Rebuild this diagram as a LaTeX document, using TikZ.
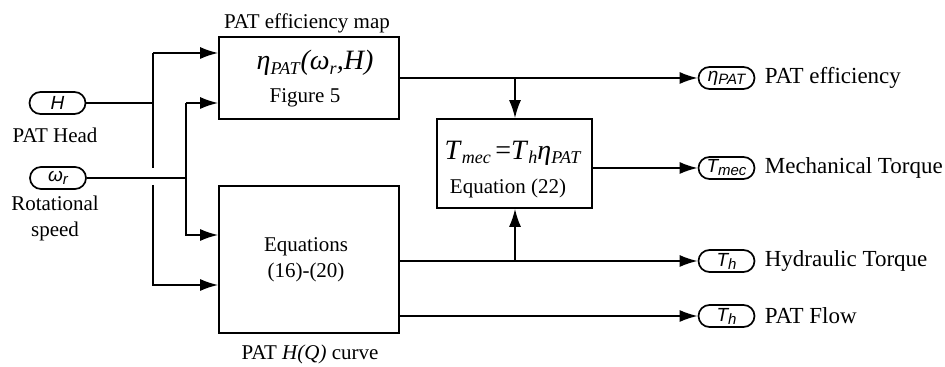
\documentclass[tikz,border=0pt]{standalone}
\usepackage{fontspec}
\setmainfont{Liberation Serif}
\setsansfont{Liberation Sans}
\usetikzlibrary{arrows.meta}
\newcommand{\lsub}[1]{\raisebox{-0.35ex}{\fontsize{9}{9}\selectfont\textit{#1}}}
\newcommand{\psub}[1]{\raisebox{-0.3ex}{\fontsize{7.5}{7.5}\selectfont\textit{#1}}}
\begin{document}
\begin{tikzpicture}[x=0.5pt,y=-0.5pt,line width=0.85pt,
  blk/.style={draw,rectangle,inner sep=0pt},
  pill/.style={draw,rounded corners=5.5pt,minimum width=28pt,minimum height=11pt,inner sep=0pt,font=\sffamily\itshape\fontsize{9.5}{10}\selectfont},
  arr/.style={-{Latex[length=9pt,width=6pt]}},
  lbl/.style={inner sep=0pt,align=center,font=\fontsize{10.5}{13}\selectfont},
  rlbl/.style={anchor=west,inner sep=0pt,font=\fontsize{11.5}{13}\selectfont},
  eq/.style={inner sep=0pt,font=\fontsize{14}{16}\selectfont}]
\useasboundingbox (0,0) rectangle (945,367);
% input pills
\node[pill] (pH) at (57.5,103) {H};
\node[lbl] (tH) at (55,135) {PAT Head};
\node[pill] (pw) at (58,178) {ω\psub{r}};
\node[lbl] (tw) at (55,218) {Rotational\\speed};
% blocks
\node[blk,minimum width=90pt,minimum height=41pt] (b1) at (309,78) {};
\node[lbl] (t1) at (307,23) {PAT efficiency map};
\node[eq] (e1) at (315,63) {\textit{η}\lsub{PAT}\textit{(ω}\lsub{r}\textit{,H)}};
\node[lbl] (f1) at (305,98) {Figure 5};
\node[blk,minimum width=90pt,minimum height=73.5pt] (b2) at (309,259.5) {};
\node[lbl] (e2) at (306,260) {Equations\\(16)-(20)};
\node[lbl] (t2) at (310,354) {PAT \textit{H(Q)} curve};
\node[blk,minimum width=77.5pt,minimum height=44.5pt] (b3) at (514.5,163.5) {};
\node[eq] (e3) at (513,153) {\textit{T}\lsub{mec}\,=\textit{T}\lsub{h}\textit{η}\lsub{PAT}};
\node[lbl] (f3) at (508,188) {Equation (22)};
% output pills
\node[pill] (oEta) at (726.5,78) {η\psub{PAT}};
\node[rlbl] (lEta) at (764,78) {PAT efficiency};
\node[pill] (oTm) at (726.5,168) {T\psub{mec}};
\node[rlbl] (lTm) at (764,168) {Mechanical Torque};
\node[pill] (oTh) at (726.5,261) {T\psub{h}};
\node[rlbl] (lTh) at (764,261) {Hydraulic Torque};
\node[pill] (oQ) at (726.5,316) {T\psub{h}};
\node[rlbl] (lQ) at (764,316) {PAT Flow};
% junction coordinates
\coordinate (hTop) at (153,53);
\coordinate (hMid) at (153,103);
\coordinate (hGapA) at (153,168);
\coordinate (hGapB) at (153,185);
\coordinate (hBot) at (153,285);
\coordinate (wTop) at (186,103);
\coordinate (wMid) at (186,178);
\coordinate (wBot) at (186,235);
\coordinate (jEta) at (515,78);
\coordinate (jTh) at (515,261);
\coordinate (b2o1) at (399,261);
\coordinate (b2o2) at (399,316);
% left wiring
\draw (pH.east) -- (hMid);
\draw (hGapA) -- (hTop);
\draw[arr] (hTop) -- (hTop -| b1.west);
\draw[arr] (hGapB) -- (hBot) -- (hBot -| b2.west);
\draw (pw.east) -- (wMid);
\draw[arr] (wTop) -- (wTop -| b1.west);
\draw[arr] (wTop) -- (wBot) -- (wBot -| b2.west);
% right wiring
\draw[arr] (b1.east) -- (oEta.west);
\draw[arr] (jEta) -- (jEta |- b3.north);
\draw[arr] (b3.east |- oTm.west) -- (oTm.west);
\draw[arr] (b2o1) -- (oTh.west);
\draw[arr] (jTh) -- (jTh |- b3.south);
\draw[arr] (b2o2) -- (oQ.west);
\end{tikzpicture}
\end{document}
